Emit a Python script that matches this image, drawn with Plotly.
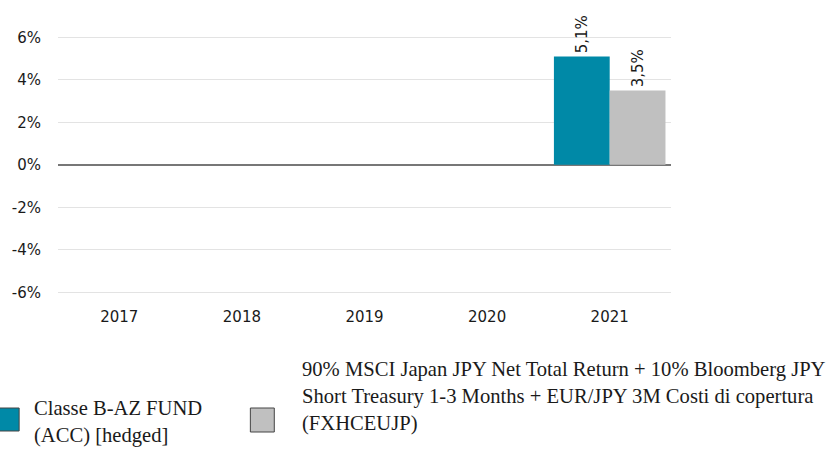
import plotly.graph_objects as go

years = ["2017", "2018", "2019", "2020", "2021"]
fund_values = [None, None, None, None, 5.1]
bench_values = [None, None, None, None, 3.5]
fund_name = "Classe B-AZ FUND<br>(ACC) [hedged]"
bench_name = ("90% MSCI Japan JPY Net Total Return + 10% Bloomberg JPY<br>"
              "Short Treasury 1-3 Months + EUR/JPY 3M Costi di copertura<br>"
              "(FXHCEUJP)")
y_ticks = [-6, -4, -2, 0, 2, 4, 6]
y_tick_labels = ["-6%", "-4%", "-2%", "0%", "2%", "4%", "6%"]

TEAL = "#0089A7"
GREY = "#C0C0C0"
W, H = 831, 459
L, PW = 56, 615
T, PH = 16, 289
Y_RANGE = [-6.6, 7]


def px_x(px):
    return (px - L) / PW


def px_y(py):
    return (T + PH - py) / PH


fig = go.Figure()
for vals, col, name in [(fund_values, TEAL, fund_name), (bench_values, GREY, bench_name)]:
    fig.add_trace(go.Bar(
        x=years, y=vals, name=name, marker=dict(color=col, line=dict(width=0)),
        texttemplate="%{y:.1f}%", textposition="outside", textangle=-90,
        textfont=dict(family="DejaVu Sans", size=15, color="#1a1a1a"),
        cliponaxis=False, constraintext="none", showlegend=False,
    ))

fig.update_layout(
    width=W, height=H,
    margin=dict(l=L, r=W - L - PW, t=T, b=H - T - PH),
    paper_bgcolor="white", plot_bgcolor="white",
    barmode="group", bargap=0.09, bargroupgap=0,
    separators=",.",
    font=dict(family="DejaVu Sans", size=15, color="#1a1a1a"),
    xaxis=dict(type="category", showgrid=False, showline=False, ticks="",
               tickfont=dict(size=15, color="#1a1a1a"), ticklabelstandoff=1),
    yaxis=dict(range=Y_RANGE, tickvals=y_ticks, ticktext=y_tick_labels,
               showgrid=True, gridcolor="#E3E3E3", gridwidth=1,
               zeroline=True, zerolinecolor="#777777", zerolinewidth=2,
               showline=False, ticks="", ticklabelstandoff=16,
               tickfont=dict(size=15, color="#1a1a1a")),
    showlegend=False,
)

# legend drawn manually
legend_items = [
    (TEAL, -6, 408, 23, 30, 422, fund_name),
    (GREY, 249, 408, 24, 299, 396, bench_name),
]
for col, sx, sy, ss, tx, ty, txt in legend_items:
    fig.add_shape(type="rect", xref="paper", yref="paper",
                  x0=px_x(sx), x1=px_x(sx + ss), y0=px_y(sy), y1=px_y(sy + ss),
                  fillcolor=col, line=dict(color="#444", width=1), layer="above")
    fig.add_annotation(xref="paper", yref="paper", x=px_x(tx), y=px_y(ty),
                       xanchor="left", yanchor="middle", align="left",
                       text=txt, showarrow=False,
                       font=dict(family="Liberation Serif", size=20.6, color="#1a1a1a"))

fig.write_html("out.html")
